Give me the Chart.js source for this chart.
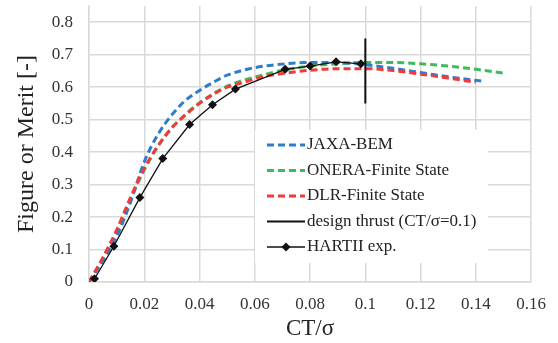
<!DOCTYPE html>
<html>
<head>
<meta charset="utf-8">
<script src="https://cdn.jsdelivr.net/npm/chart.js@4.4.1/dist/chart.umd.min.js"></script>
<style>
    html, body { margin: 0; padding: 0; background: #fff; }
    #wrap { width: 558px; height: 343px; }
</style>
</head>
<body>
<div id="wrap"><canvas id="chartFM"></canvas></div>
<script>
// ----------------------------------------------------------
// DATA (FM vs CT/sigma)
// ----------------------------------------------------------
const jaxaX  = [0, 0.005, 0.01, 0.015, 0.02, 0.025, 0.03, 0.035, 0.04, 0.045, 0.05, 0.06, 0.07, 0.08, 0.09, 0.1, 0.11, 0.12, 0.13, 0.143];
const jaxaY  = [0, 0.065, 0.14, 0.245, 0.37, 0.455, 0.515, 0.56, 0.59, 0.615, 0.637, 0.66, 0.671, 0.676, 0.676, 0.669, 0.658, 0.645, 0.632, 0.618];

const oneraX = [0, 0.005, 0.01, 0.015, 0.02, 0.025, 0.03, 0.035, 0.04, 0.045, 0.05, 0.056, 0.062, 0.07, 0.08, 0.09, 0.1, 0.11, 0.12, 0.13, 0.14, 0.15];
const oneraY = [0, 0.072, 0.155, 0.255, 0.345, 0.418, 0.475, 0.517, 0.552, 0.58, 0.603, 0.622, 0.635, 0.652, 0.665, 0.672, 0.676, 0.676, 0.672, 0.665, 0.655, 0.643];

const dlrX   = [0, 0.005, 0.01, 0.015, 0.02, 0.025, 0.03, 0.035, 0.04, 0.045, 0.05, 0.056, 0.062, 0.07, 0.08, 0.09, 0.1, 0.11, 0.12, 0.13, 0.14];
const dlrY   = [0, 0.075, 0.16, 0.26, 0.35, 0.42, 0.475, 0.515, 0.55, 0.578, 0.60, 0.615, 0.63, 0.642, 0.652, 0.657, 0.657, 0.651, 0.64, 0.628, 0.615];

const designX = [0.1, 0.1];
const designY = [0.55, 0.75];

const hartX  = [0.002, 0.009, 0.0184, 0.0267, 0.0364, 0.0447, 0.053, 0.071, 0.080, 0.0894, 0.0984];
const hartY  = [0.01, 0.11, 0.26, 0.38, 0.485, 0.546, 0.594, 0.655, 0.665, 0.678, 0.672];

const seriesLabels = ['JAXA-BEM', 'ONERA-Finite State', 'DLR-Finite State', 'design thrust (CT/σ=0.1)', 'HARTII exp.'];

const xTitle = 'CT/σ';
const yTitle = 'Figure or Merit [-]';

// colours
const cBlue  = '#2e7dcc';
const cGreen = '#3dba5c';
const cRed   = '#f23a3a';
const cGrid  = '#d9d9d9';

const serif = "'Liberation Serif', 'Times New Roman', serif";

function pts(xs, ys) {
    return xs.map((x, i) => ({ x: x, y: ys[i] }));
}

// ----------------------------------------------------------
// Legend drawn inside the plot (white box over the grid)
// ----------------------------------------------------------
const insideLegend = {
    id: 'insideLegend',
    beforeDatasetsDraw(chart) {
        const ctx = chart.ctx;
        ctx.save();
        ctx.fillStyle = '#fff';
        ctx.fillRect(255, 130, 233, 133);

        chart.data.datasets.forEach((ds, i) => {
            const y = 145 + i * 25.5;
            ctx.beginPath();
            ctx.strokeStyle = ds.borderColor;
            ctx.lineWidth = ds.borderWidth;
            ctx.setLineDash(ds.borderDash || []);
            ctx.moveTo(267, y);
            ctx.lineTo(305, y);
            ctx.stroke();
            ctx.setLineDash([]);
            if (ds.pointRadius > 0) {
                ctx.fillStyle = ds.pointBackgroundColor;
                ctx.beginPath();
                ctx.moveTo(286, y - 4.5);
                ctx.lineTo(290.5, y);
                ctx.lineTo(286, y + 4.5);
                ctx.lineTo(281.5, y);
                ctx.closePath();
                ctx.fill();
            }
            ctx.fillStyle = '#222';
            ctx.font = '17px ' + serif;
            ctx.textBaseline = 'middle';
            ctx.textAlign = 'left';
            ctx.fillText(ds.label, 307, y);
        });
        ctx.restore();
    }
};

const dashed = (label, xs, ys, color, ord) => ({
    label: label,
    data: pts(xs, ys),
    borderColor: color,
    borderWidth: 3,
    borderDash: [7, 4],
    pointRadius: 0,
    cubicInterpolationMode: 'monotone',
    order: ord
});

new Chart(document.getElementById('chartFM'), {
    type: 'line',
    data: {
        datasets: [
            dashed(seriesLabels[0], jaxaX, jaxaY, cBlue, 3),
            dashed(seriesLabels[1], oneraX, oneraY, cGreen, 4),
            dashed(seriesLabels[2], dlrX, dlrY, cRed, 2),
            {
                label: seriesLabels[3],
                data: pts(designX, designY),
                borderColor: '#111',
                borderWidth: 2,
                pointRadius: 0,
                tension: 0,
                order: 1
            },
            {
                label: seriesLabels[4],
                data: pts(hartX, hartY),
                borderColor: '#111',
                borderWidth: 1.3,
                pointStyle: 'rectRot',
                pointRadius: 4.5,
                pointBackgroundColor: '#111',
                pointBorderColor: '#111',
                pointBorderWidth: 0,
                tension: 0,
                order: 0
            }
        ]
    },
    options: {
        responsive: true,
        maintainAspectRatio: false,
        animation: false,
        layout: { padding: { left: 0, right: 24, top: 6, bottom: 0 } },
        plugins: {
            legend: { display: false },
            tooltip: { enabled: false }
        },
        scales: {
            x: {
                type: 'linear',
                min: 0,
                max: 0.16,
                afterFit(scale) { scale.height = 61; },
                grid: { color: cGrid, lineWidth: 1.5, drawTicks: false },
                border: { color: cGrid, width: 1.5 },
                ticks: {
                    stepSize: 0.02,
                    padding: 12,
                    color: '#333',
                    font: { family: serif, size: 17 },
                    callback: v => +v.toFixed(2)
                },
                title: {
                    display: true,
                    text: xTitle,
                    color: '#222',
                    font: { family: serif, size: 23, lineHeight: 1.2 },
                    padding: { top: 0, bottom: 0 }
                }
            },
            y: {
                type: 'linear',
                min: 0,
                max: 0.85,
                afterFit(scale) {
                    scale.width = 89;
                    // top label sits below the plot top, no extra room needed
                    scale.paddingTop = 0;
                    scale.paddingBottom = 0;
                },
                grid: { color: cGrid, lineWidth: 1.5, drawTicks: false },
                border: { color: cGrid, width: 1.5 },
                ticks: {
                    stepSize: 0.1,
                    includeBounds: false,
                    padding: 16,
                    color: '#333',
                    font: { family: serif, size: 17 },
                    callback: v => +v.toFixed(1)
                },
                title: {
                    display: true,
                    text: yTitle,
                    color: '#222',
                    font: { family: serif, size: 24, lineHeight: 1.2 },
                    padding: { top: 12, bottom: 0 }
                }
            }
        }
    },
    plugins: [insideLegend]
});
</script>
</body>
</html>
